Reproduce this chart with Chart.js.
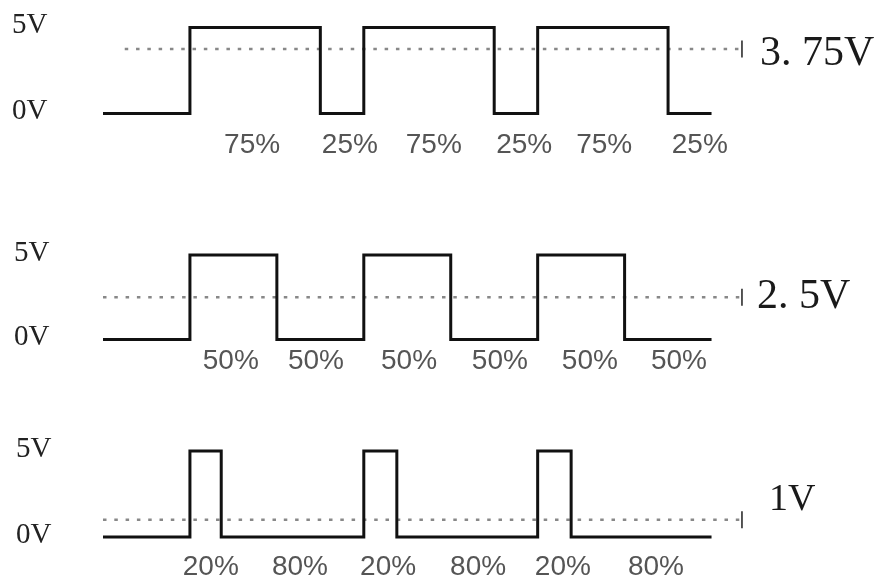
<!DOCTYPE html>
<html>
<head>
<meta charset="utf-8">
<script src="https://cdn.jsdelivr.net/npm/chart.js@4.4.0/dist/chart.umd.min.js"></script>
<style>
  html, body { margin: 0; padding: 0; background: #fff; }
  #wrap { position: relative; width: 882px; height: 582px; overflow: hidden; background: #fff; }
  canvas { position: absolute; left: 0; }
</style>
</head>
<body>
<div id="wrap">
  <canvas id="c1" width="882" height="180" style="top:0px"></canvas>
  <canvas id="c2" width="882" height="210" style="top:180px"></canvas>
  <canvas id="c3" width="882" height="192" style="top:390px"></canvas>
</div>
<script>
// ---------------- data (time in arbitrary units, voltage in V) ----------------
const timeEdges1 = [0, 2, 5, 6, 9, 10, 13, 14];
const volts1     = [0, 5, 0, 5, 0, 5, 0, 0];
const timeEdges2 = [0, 2, 4, 6, 8, 10, 12, 14];
const volts2     = [0, 5, 0, 5, 0, 5, 0, 0];
const timeEdges3 = [0, 2, 2.72, 6, 6.76, 10, 10.77, 14];
const volts3     = [0, 5, 0, 5, 0, 5, 0, 0];

const avgVolts     = [3.75, 2.5, 1];
const avgLabels    = ['3. 75V', '2. 5V', '1V'];
const avgLineStart = [0.5, 0, 0];
const avgLineEnd   = [14.7, 14.7, 14.7];

const levelTicks = [5, 0];

const dutyLabels1 = ['75%', '25%', '75%', '25%', '75%', '25%'];
const dutyTicks1  = [3.43, 5.68, 7.61, 9.69, 11.53, 13.73];
const dutyLabels2 = ['50%', '50%', '50%', '50%', '50%', '50%'];
const dutyTicks2  = [2.94, 4.90, 7.04, 9.13, 11.20, 13.25];
const dutyLabels3 = ['20%', '80%', '20%', '80%', '20%', '80%'];
const dutyTicks3  = [2.48, 4.53, 6.56, 8.63, 10.58, 12.72];

// ---------------- layout (pixels) ----------------
const CHART_LEFT = 103, CHART_RIGHT = 755, X_MAX = 15;
const panels = [
  { id: 'c1', top: 0,   h: 180, y5: 27.5, y0: 113.5, pctY: 143, avgLabelY: 54,  leftPad: 12, rightPad: -3, avgSize: 42 },
  { id: 'c2', top: 180, h: 210, y5: 255,  y0: 339.5, pctY: 359, avgLabelY: 297, leftPad: 14, rightPad: -6, avgSize: 42 },
  { id: 'c3', top: 390, h: 192, y5: 451,  y0: 537,   pctY: 565, avgLabelY: 500, leftPad: 16, rightPad: 6,  avgSize: 38 }
];

function noPad(s) { s.paddingTop = 0; s.paddingBottom = 0; s.paddingLeft = 0; s.paddingRight = 0; }

function build(p, edges, volts, dutyTicks, dutyLabels, k) {
  const ppv = (p.y0 - p.y5) / 5;
  const bottom = p.pctY - p.top - 20;
  const yMax = 5 + (p.y5 - p.top) / ppv;
  const yMin = -(bottom - (p.y0 - p.top)) / ppv;
  const nudge = 2 / ppv;
  const avgLabelV = (p.y0 - p.avgLabelY) / ppv;

  new Chart(document.getElementById(p.id), {
    type: 'line',
    data: {
      datasets: [
        {
          data: edges.map((t, i) => ({ x: t, y: volts[i] })),
          stepped: 'before',
          borderColor: '#111',
          borderWidth: 3,
          borderJoinStyle: 'miter',
          borderCapStyle: 'butt',
          pointRadius: 0,
          fill: false,
          clip: false
        },
        {
          data: [{ x: avgLineStart[k], y: avgVolts[k] }, { x: avgLineEnd[k], y: avgVolts[k] }],
          borderColor: '#888',
          borderWidth: 2.5,
          borderDash: [3.5, 7.8],
          pointRadius: [0, 8.5],
          pointStyle: 'line',
          pointRotation: 90,
          pointBorderColor: '#444',
          pointBorderWidth: 1.8,
          fill: false,
          clip: false
        }
      ]
    },
    options: {
      responsive: false,
      animation: false,
      events: [],
      layout: { autoPadding: false, padding: { left: p.leftPad, right: 0, top: 0, bottom: 0 } },
      plugins: { legend: { display: false }, tooltip: { enabled: false } },
      scales: {
        x: {
          type: 'linear', position: 'bottom', min: 0, max: X_MAX,
          grid: { display: false }, border: { display: false },
          afterFit: s => { s.height = p.h - bottom; noPad(s); },
          afterBuildTicks: s => { s.ticks = dutyTicks.map(v => ({ value: v })); },
          ticks: {
            autoSkip: false, maxRotation: 0, minRotation: 0, padding: 0,
            color: '#555',
            font: { family: 'Liberation Sans', size: 28, lineHeight: 1 },
            callback: (v, i) => dutyLabels[i]
          }
        },
        y: {
          type: 'linear', position: 'left', min: yMin, max: yMax,
          grid: { display: false }, border: { display: false },
          afterFit: s => { s.width = CHART_LEFT - p.leftPad; noPad(s); },
          afterBuildTicks: s => { s.ticks = levelTicks.map(v => ({ value: v + nudge })); },
          ticks: {
            crossAlign: 'far', padding: 0, color: '#222',
            font: { family: 'Liberation Serif', size: 29 },
            callback: (v, i) => levelTicks[i] + 'V'
          }
        },
        yr: {
          type: 'linear', position: 'right', min: yMin, max: yMax,
          grid: { display: false }, border: { display: false },
          afterFit: s => { s.width = 882 - CHART_RIGHT; noPad(s); },
          afterBuildTicks: s => { s.ticks = [{ value: avgLabelV }]; },
          ticks: {
            padding: p.rightPad, color: '#1a1a1a',
            font: { family: 'Liberation Serif', size: p.avgSize },
            callback: () => avgLabels[k]
          }
        }
      }
    }
  });
}

build(panels[0], timeEdges1, volts1, dutyTicks1, dutyLabels1, 0);
build(panels[1], timeEdges2, volts2, dutyTicks2, dutyLabels2, 1);
build(panels[2], timeEdges3, volts3, dutyTicks3, dutyLabels3, 2);
</script>
</body>
</html>
